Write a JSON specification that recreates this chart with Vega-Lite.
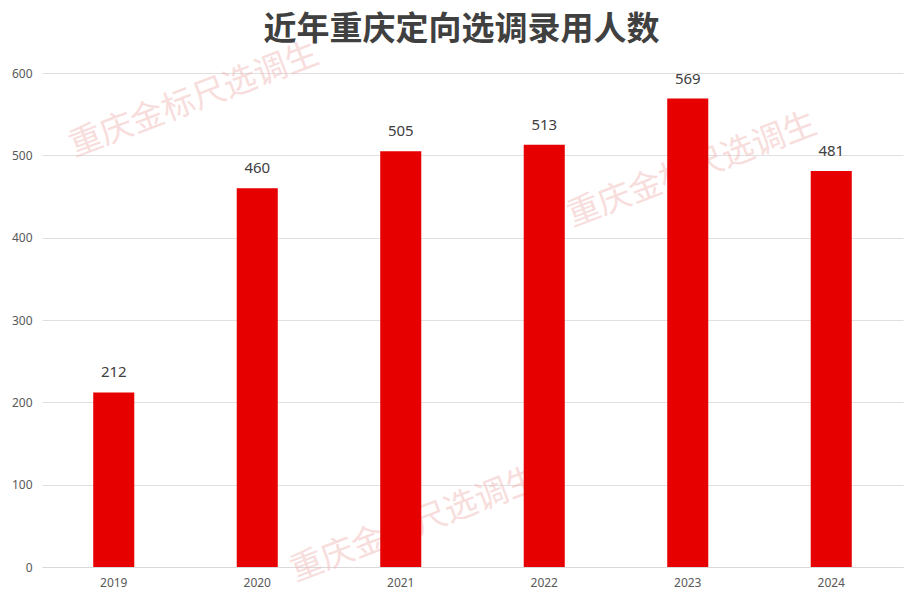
{
  "$schema": "https://vega.github.io/schema/vega-lite/v6.json",
  "width": 861,
  "height": 494,
  "autosize": {"type": "none"},
  "padding": {"left": 42, "top": 73, "right": 14, "bottom": 33},
  "background": "white",
  "config": {"view": {"stroke": null}},
  "title": {
    "text": "近年重庆定向选调录用人数",
    "font": "Noto Sans CJK SC",
    "fontSize": 33,
    "fontWeight": "bold",
    "color": "#404040",
    "anchor": "middle",
    "dx": -11,
    "offset": -9
  },
  "datasets": {
    "main": [
      {"year": "2019", "count": 212},
      {"year": "2020", "count": 460},
      {"year": "2021", "count": 505},
      {"year": "2022", "count": 513},
      {"year": "2023", "count": 569},
      {"year": "2024", "count": 481}
    ],
    "marks": [
      {"pos": 2019.56, "val": 567, "label": "重庆金标尺选调生"},
      {"pos": 2023.03, "val": 482, "label": "重庆金标尺选调生"},
      {"pos": 2021.1, "val": 51, "label": "重庆金标尺选调生"}
    ]
  },
  "layer": [
    {
      "data": {"name": "marks"},
      "mark": {
        "type": "text",
        "font": "Noto Sans CJK SC",
        "fontSize": 33,
        "color": "#f2bcbc",
        "opacity": 0.5,
        "angle": -21,
        "align": "center",
        "baseline": "middle"
      },
      "encoding": {
        "x": {"field": "pos", "type": "quantitative", "scale": {"domain": [2018.5, 2024.5]}, "axis": null},
        "y": {
          "field": "val",
          "type": "quantitative",
          "scale": {"domain": [0, 600]},
          "axis": {
            "title": null,
            "values": [0, 100, 200, 300, 400, 500, 600],
            "labelFont": "Noto Sans",
            "labelFontSize": 12,
            "labelColor": "#595959",
            "labelPadding": 10,
            "ticks": false,
            "domain": false,
            "gridColor": "#e0e0e0",
            "gridWidth": 1
          }
        },
        "text": {"field": "label"}
      }
    },
    {
      "data": {"name": "main"},
      "encoding": {
        "x": {
          "field": "year",
          "type": "nominal",
          "sort": null,
          "scale": {"paddingInner": 0.714, "paddingOuter": 0.357},
          "axis": {
            "title": null,
            "labelAngle": 0,
            "labelFont": "Noto Sans",
            "labelFontSize": 12,
            "labelColor": "#595959",
            "labelPadding": 10,
            "ticks": false,
            "domainColor": "#d9d9d9",
            "grid": false
          }
        },
        "y": {
          "field": "count",
          "type": "quantitative",
          "scale": {"domain": [0, 600]},
          "axis": {
            "title": null,
            "values": [0, 100, 200, 300, 400, 500, 600],
            "labelFont": "Noto Sans",
            "labelFontSize": 12,
            "labelColor": "#595959",
            "labelPadding": 10,
            "ticks": false,
            "domain": false,
            "gridColor": "#e0e0e0",
            "gridWidth": 1
          }
        }
      },
      "layer": [
        {"mark": {"type": "bar", "color": "#e60000"}},
        {
          "mark": {
            "type": "text",
            "font": "Noto Sans",
            "fontSize": 15,
            "color": "#404040",
            "baseline": "bottom",
            "dy": -12
          },
          "encoding": {"text": {"field": "count"}}
        }
      ]
    }
  ],
  "resolve": {"scale": {"x": "independent", "y": "shared"}}
}
